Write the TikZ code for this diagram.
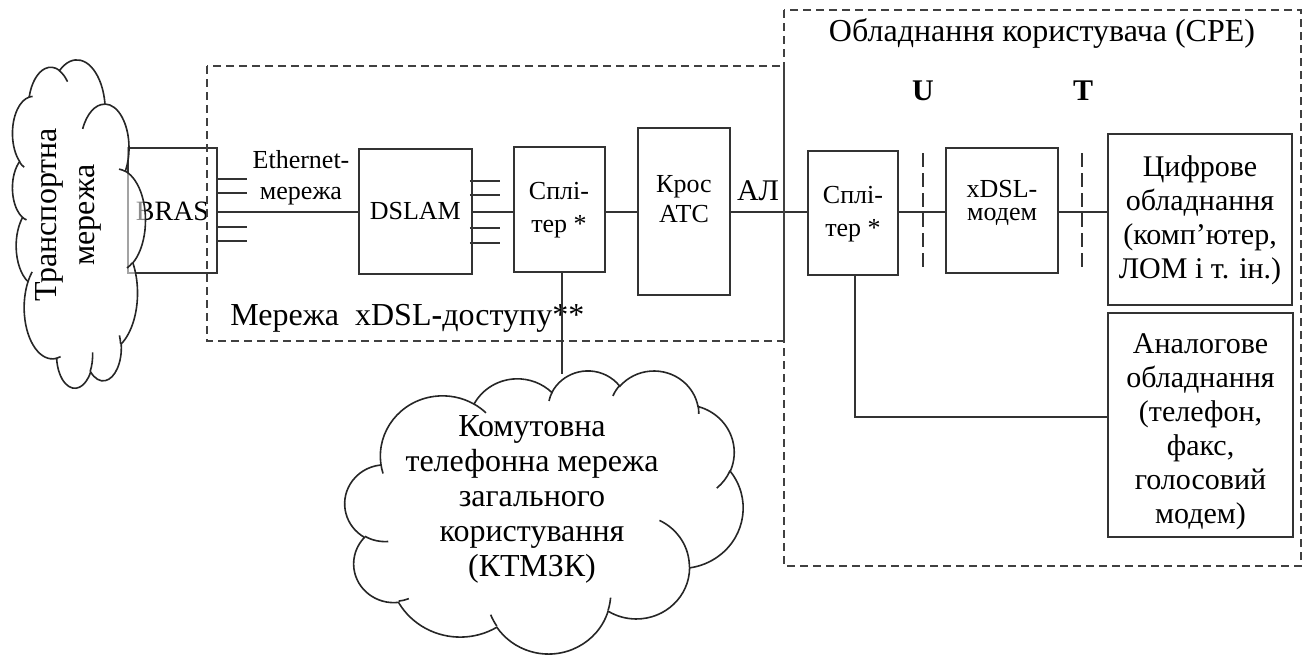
\documentclass[tikz,border=0pt]{standalone}
\usepackage{fontspec}
\setmainfont{Liberation Serif}
\usetikzlibrary{calc}

% One puff of the cloud outline: elliptical arc given by radii and by
% the visual start angle and sweep (as in the usual office cloud shape).
\tikzset{
  puff/.style n args={4}{insert path={
    arc[start angle={atan2((#1)*sin(#3),(#2)*cos(#3))},
        delta angle={mod(atan2((#1)*sin((#3)+(#4)),(#2)*cos((#3)+(#4)))
                     -atan2((#1)*sin(#3),(#2)*cos(#3))+720,360)},
        x radius=#1, y radius=#2]}},
  box/.style={draw=black!80, line width=1pt, inner sep=0pt},
  wire/.style={draw=black!80, line width=1pt},
  zone/.style={draw=black!75, line width=0.75pt, dash pattern=on 4pt off 2.5pt},
  ifc/.style={draw=black!80, line width=0.75pt, dash pattern=on 7pt off 3pt},
  cloudline/.style={draw=black!85, line width=0.8pt},
  big/.style={font=\fontsize{15}{17}\selectfont, align=center, inner sep=0pt},
  large/.style={font=\fontsize{16}{17.5}\selectfont, align=center, inner sep=0pt},
  small/.style={font=\fontsize{13}{15.5}\selectfont, align=center, inner sep=0pt},
}

% Cloud drawn in a 432 x 432 frame
\newcommand\cloudshape[1]{%
  \path[cloudline,#1] (39,143.7)
    [puff={67.53}{91.90}{-190.4875}{123.7805}]
    [puff={53.33}{72.67}{-144.1024}{89.9452}]
    [puff={43.65}{59.45}{-145.8079}{99.7230}]
    [puff={48.57}{65.95}{-130.9861}{117.2417}]
    [puff={53.33}{72.73}{-78.7089}{109.0269}]
    [puff={67.75}{92.20}{-46.2673}{130.2690}]
    [puff={57.85}{78.67}{0.6250}{114.0333}]
    [puff={67.52}{92.15}{22.4516}{115.1726}]
    [puff={77.20}{105.43}{66.2426}{75.7110}]
    [puff={43.60}{59.18}{-274.9421}{146.7356}]
    [puff={43.45}{59.45}{-246.8285}{152.5189}] -- cycle;
  \path[cloudline]
    (46.93,261.77) [puff={43.45}{59.45}{86.7420}{26.4295}]
    (69.28,348.99) [puff={43.60}{59.18}{73.6105}{11.4475}]
    (164.78,390.90) [puff={67.52}{92.15}{137.6242}{14.0811}]
    (288.27,347.51) [puff={67.52}{92.15}{6.4533}{15.9984}]
    (341.29,229.54) [puff={57.85}{78.67}{-70.2924}{70.9174}]
    (417.98,153.54) [puff={53.33}{72.73}{30.3180}{27.7515}]
    (383.24,54.26) [puff={48.57}{65.95}{-13.7443}{14.8589}]
    (290.78,39.52) [puff={48.57}{65.95}{-149.1815}{18.1954}]
    (221.41,47.20) [puff={43.65}{59.45}{-163.4943}{17.6864}]
    (140.00,51.92) [puff={67.53}{91.90}{-66.7070}{12.3194}]
    (41.27,157.89) [puff={67.53}{91.90}{157.6544}{11.8582}];
}

\begin{document}
\begin{tikzpicture}[x=0.5pt, y=-0.5pt]
\useasboundingbox (0,0) rectangle (1309,655);

% ---- access side ----
\node[box, minimum width=44.2pt, minimum height=62.2pt] (bras) at (172.5,210.5) {};
\node[font=\fontsize{14}{16}\selectfont, inner sep=0pt] (braslbl) at (172.5,211) {BRAS};
\foreach \dy in {-31.5,-17.8,16.8,30.2}
  \draw[wire] ($(bras.east)+(0,\dy)$) -- ++(29.5,0);

% transport network cloud, laid on its side over the edge of BRAS
\begin{scope}[shift={(78.5,224)}, rotate=90,
              x={(0.37963pt,0)}, y={(0,-0.15394pt)}, shift={(-216,-216)}]
  \cloudshape{fill=white, fill opacity=0.55}
\end{scope}
\node[font=\fontsize{16}{19}\selectfont, align=center, inner sep=0pt, rotate=90]
  (transport) at (68,215) {Транспортна\\мережа};

\node[box, minimum width=56.35pt, minimum height=62.35pt] (dslam) at (415.3,211.6) {};
\node[font=\fontsize{13}{15}\selectfont, inner sep=0pt] (dslamlbl) at (415.3,211) {DSLAM};
\foreach \dy in {-30.9,-16.6,16.7,31.7}
  \draw[wire] ($(dslam.east)+(-2.7,\dy)$) -- ++(30,0);

\node[small] (ethlbl) at (301,178) {Ethernet-\\мережа};

\node[box, minimum width=45.5pt, minimum height=62.2pt] (spl1) at (559.5,209.5) {};
\node[small, font=\fontsize{13}{16.5}\selectfont] (spl1lbl) at (559,210) {Сплі-\\тер *};

\node[box, minimum width=46pt, minimum height=83.5pt] (kros) at (684,211.5) {};
\node[small, font=\fontsize{13}{15}\selectfont] (kroslbl) at (684,199) {Крос\\АТС};

\node[big, anchor=base] (al) at (758,200) {АЛ};

\coordinate (trunk) at (0,212);
\draw[wire] (bras.east |- trunk) -- (dslam.west |- trunk);
\draw[wire] (dslam.east |- trunk) -- (spl1.west |- trunk);
\draw[wire] (spl1.east |- trunk) -- (kros.west |- trunk);

% ---- customer side ----
\node[box, minimum width=45pt, minimum height=62pt] (spl2) at (853,213) {};
\node[small, font=\fontsize{13}{16.5}\selectfont] (spl2lbl) at (853,214) {Сплі-\\тер *};

\node[box, minimum width=56pt, minimum height=62.5pt] (modem) at (1002,210.5) {};
\node[small, font=\fontsize{13}{11.5}\selectfont] (modemlbl) at (1002,203) {xDSL-\\модем};

\node[box, minimum width=92pt, minimum height=85.5pt] (digital) at (1200,219.5) {};
\node[big] (digitallbl) at (1200,220) {Цифрове\\обладнання\\(комп’ютер,\\ЛОМ і т. ін.)};

\node[box, minimum width=92.5pt, minimum height=112pt] (analog) at (1200.5,425) {};
\node[big] (analoglbl) at (1200.5,432) {Аналогове\\обладнання\\(телефон,\\факс,\\голосовий\\модем)};

\draw[wire] (kros.east |- trunk) -- (spl2.west |- trunk);
\draw[wire] (spl2.east |- trunk) -- (modem.west |- trunk);
\draw[wire] (modem.east |- trunk) -- (digital.west |- trunk);
\draw[wire] ($(spl2.south)+(2,0)$) |- ($(analog.west)+(0,-8)$);

% reference points U and T
\coordinate (utop) at (923,153);
\coordinate (ubot) at (923,272);
\coordinate (ttop) at (1082,153);
\coordinate (tbot) at (1082,272);
\draw[ifc] (utop) -- (ubot);
\draw[ifc] (ttop) -- (tbot);
\node[big, font=\fontsize{15}{17}\bfseries, anchor=base] (ulbl) at (923,100) {U};
\node[big, font=\fontsize{15}{17}\bfseries, anchor=base] (tlbl) at (1083,100) {T};

% ---- zones ----
\draw[zone] (207,66) rectangle (784,341);
\draw[zone] (784,10) rectangle (1301,566);
\node[large, anchor=base west] (accesslbl) at (230,325)
  {Мережа\ \ xDSL{\bfseries -}доступу**};
\node[large, anchor=base] (cpelbl) at (1042,41) {Обладнання користувача (СРЕ)};

% ---- public switched telephone network ----
\begin{scope}[shift={(345,370)}, x={(0.46065pt,0)}, y={(0,-0.32755pt)}]
  \cloudshape{fill=white}
\end{scope}
\node[large] (pstn) at (532,499)
  {Комутовна\\телефонна мережа\\загального\\користування\\(КТМЗК)};
\coordinate (pstnin) at (562,374);
\draw[wire] ($(spl1.south)+(2.5,0)$) -- (pstnin);

\end{tikzpicture}
\end{document}
